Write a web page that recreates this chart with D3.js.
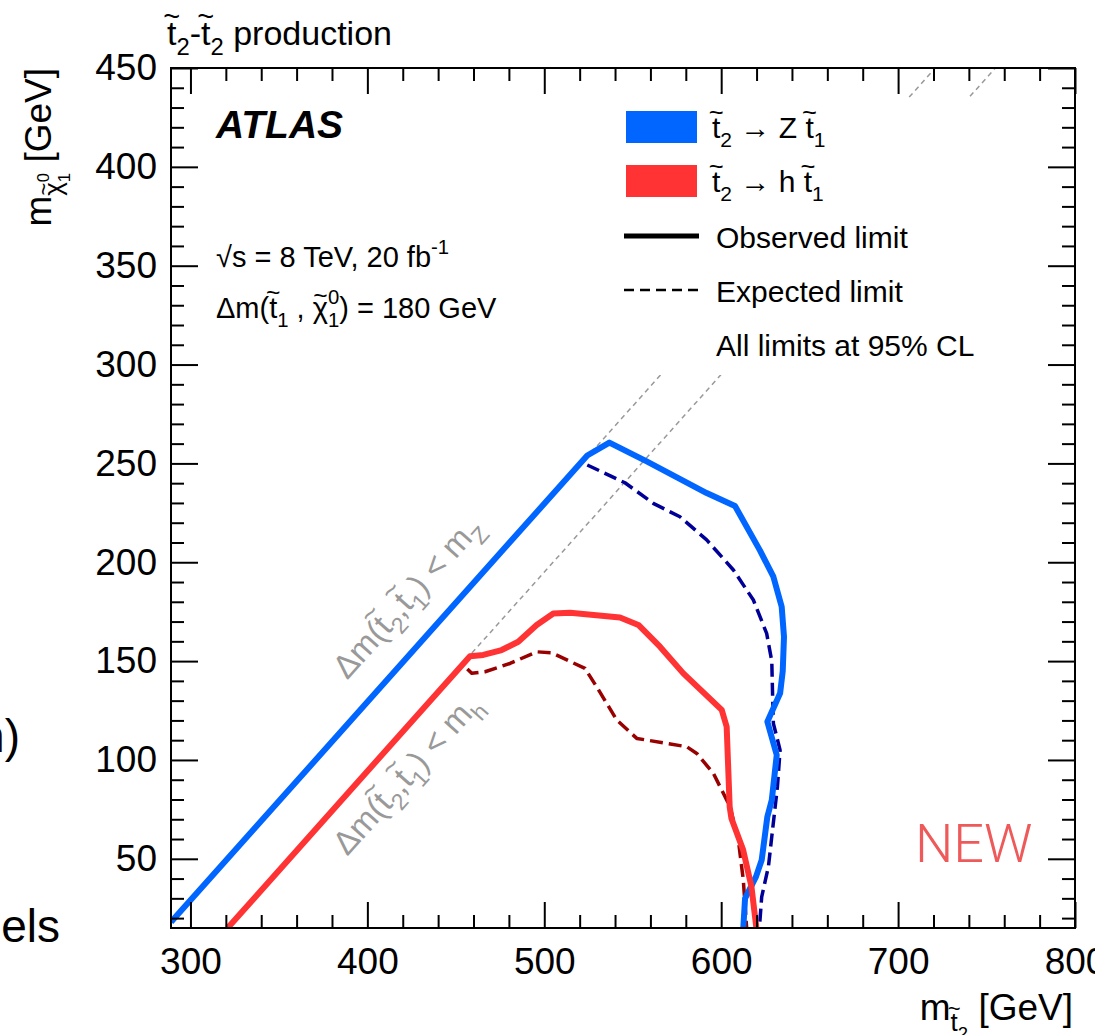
<!DOCTYPE html>
<html>
<head>
<meta charset="utf-8">
<script src="https://cdn.jsdelivr.net/npm/d3@7"></script>
<style>
body { margin: 0; background: #fff; }
svg { font-family: "Liberation Sans", Arial, Helvetica, sans-serif; }
svg text { white-space: pre; }
</style>
</head>
<body>
<svg width="1095" height="1035"></svg>
<script>
var svg = d3.select('svg');

// kinematic limits (m_stop2, m_chi)
var kinZ = [[289, 18], [721, 450]];
var kinH = [[320, 15], [755, 450]];

// stop2 -> Z stop1
var blueObs = [[289, 18], [524.3, 254], [536.8, 260.5], [557.9, 251], [591.8, 235], [607.8, 228.5],
    [621.9, 206], [629.5, 192.7], [634.2, 177.5], [635.5, 162.3], [634.8, 145], [633.3, 133.7],
    [626.1, 119.3], [631.4, 102.5], [628.6, 79.7], [626.1, 71.3], [622.9, 49.4], [619.7, 41],
    [613.5, 30], [612.5, 15]];
var blueExp = [[524.3, 249.2], [545.6, 240.2], [561.6, 229.8], [576.7, 223], [591.8, 211.3],
    [606.9, 196.1], [618.2, 180.9], [625.7, 164], [628.6, 150], [629, 135], [629.5, 118.5],
    [633.3, 105], [631.8, 86.5], [628.6, 61.2], [626.7, 46], [622.9, 30.8], [621.6, 15]];

// stop2 -> h stop1
var redObs = [[321, 15], [458, 152.5], [465.5, 153.1], [475.9, 155.6], [485.3, 159.8], [495.7, 168.3],
    [505.1, 174.1], [514.6, 174.5], [542.8, 172.1], [553.2, 168.3], [565.4, 157.3], [578.6, 143.8],
    [600.3, 125.3], [603.1, 116.8], [604.8, 76.3], [605.8, 70.4], [612.4, 54.5], [617.1, 35.9],
    [619.9, 15]];
var redExp = [[456.5, 146], [459, 143.8], [466.5, 144.6], [480.6, 148.8], [495.7, 154.7], [504.2, 154.2],
    [523, 146.3], [529.6, 137], [541, 120.2], [552.3, 110.9], [580.5, 106.7], [586.2, 103.3],
    [595.6, 93.2], [605, 76.4], [609.7, 59.5], [612.5, 39.3], [614.4, 15]];

var xTicks = [300, 400, 500, 600, 700, 800];
var yTicks = [50, 100, 150, 200, 250, 300, 350, 400, 450];

var blue = '#0066ff', red = '#ff3333', navy = '#000099', darkRed = '#990000', grey = '#999';

var plot = {l: 171, r: 1075, t: 68, b: 928};
var x = d3.scaleLinear().domain([289, 800]).range([plot.l, plot.r]);
var y = d3.scaleLinear().domain([15, 450]).range([plot.b, plot.t]);

var line = d3.line().x(function(d){ return x(d[0]); }).y(function(d){ return y(d[1]); });

// text with tilde / sub / superscripts, laid out by measuring
function richText(parent, parts, fs, fill){
    var g = parent.append('g').style('fill', fill || '#000');
    var cx = 0;
    parts.forEach(function(p){
        var s = fs * (p.sz || 1);
        var base = fs * (p.off || 0);
        var t = g.append('text')
            .attr('x', cx).attr('y', base)
            .style('font-size', s + 'px')
            .text(p.s);
        var w = t.node().getComputedTextLength();
        if(p.tilde){
            g.append('text')
                .attr('x', cx + w/2).attr('y', base - s*(p.tilde - 0.28))
                .attr('text-anchor', 'middle')
                .style('font-size', (s*0.85) + 'px')
                .text('~');
        }
        if(!p.keep) cx += w;
    });
    g.width = cx;
    return g;
}

svg.append('clipPath').attr('id', 'plotClip')
    .append('rect')
    .attr('x', plot.l).attr('y', plot.t)
    .attr('width', plot.r - plot.l).attr('height', plot.b - plot.t);

var area = svg.append('g').attr('clip-path', 'url(#plotClip)');

// kinematic lines
[kinZ, kinH].forEach(function(k){
    area.append('path')
        .attr('d', line(k))
        .style('fill', 'none')
        .style('stroke', grey)
        .style('stroke-width', 1.5)
        .style('stroke-dasharray', '5,4');
});

// legend background hides the diagonals
svg.append('rect')
    .attr('x', 612).attr('y', 98)
    .attr('width', 450).attr('height', 277)
    .style('fill', '#fff');

// limit curves
function curve(data, color, width, dash){
    area.append('path')
        .attr('d', line(data))
        .style('fill', 'none')
        .style('stroke', color)
        .style('stroke-width', width)
        .style('stroke-linejoin', 'round')
        .style('stroke-dasharray', dash || null);
}
curve(blueExp, navy, 3.5, '13,6');
curve(redExp, darkRed, 3.5, '13,6');
curve(blueObs, blue, 6);
curve(redObs, red, 6);

// axes, ticks inside on all four sides
var xMinor = d3.range(300, 801, 20).filter(function(v){ return xTicks.indexOf(v) < 0; });
var yMinor = d3.range(20, 450, 10).filter(function(v){ return yTicks.indexOf(v) < 0; });

function axis(a, pos){
    var g = svg.append('g').attr('transform', pos).call(a);
    g.select('.domain').remove();
    g.selectAll('line').style('stroke', '#000').style('stroke-width', 2);
    g.selectAll('text').style('font-size', '37px').style('fill', '#000');
    return g;
}
axis(d3.axisBottom(x).tickValues(xTicks).tickSize(-26).tickSizeOuter(0).tickPadding(20), 'translate(0,' + plot.b + ')');
axis(d3.axisBottom(x).tickValues(xMinor).tickSize(-13).tickSizeOuter(0).tickFormat(''), 'translate(0,' + plot.b + ')');
axis(d3.axisTop(x).tickValues(xTicks).tickSize(-26).tickSizeOuter(0).tickFormat(''), 'translate(0,' + plot.t + ')');
axis(d3.axisTop(x).tickValues(xMinor).tickSize(-13).tickSizeOuter(0).tickFormat(''), 'translate(0,' + plot.t + ')');
axis(d3.axisLeft(y).tickValues(yTicks).tickSize(-27).tickSizeOuter(0).tickPadding(14), 'translate(' + plot.l + ',0)');
axis(d3.axisLeft(y).tickValues(yMinor).tickSize(-13).tickSizeOuter(0).tickFormat(''), 'translate(' + plot.l + ',0)');
axis(d3.axisRight(y).tickValues(yTicks).tickSize(-27).tickSizeOuter(0).tickFormat(''), 'translate(' + plot.r + ',0)');
axis(d3.axisRight(y).tickValues(yMinor).tickSize(-13).tickSizeOuter(0).tickFormat(''), 'translate(' + plot.r + ',0)');

svg.append('rect')
    .attr('x', plot.l).attr('y', plot.t)
    .attr('width', plot.r - plot.l).attr('height', plot.b - plot.t)
    .style('fill', 'none').style('stroke', '#000').style('stroke-width', 2);

// axis titles
var xt = richText(svg, [{s: 'm'}, {s: 't', sz: 0.7, off: 0.3, tilde: 0.85}, {s: '2', sz: 0.5, off: 0.55},
    {s: ' [GeV]'}], 37);
xt.attr('transform', 'translate(' + (1073 - xt.width) + ',1020)');

var yt = richText(svg, [{s: 'm'}, {s: 'χ', sz: 0.7, off: 0.3, tilde: 0.7}, {s: '1', sz: 0.45, off: 0.5, keep: true},
    {s: '0', sz: 0.45, off: -0.05}, {s: ' [GeV]'}], 37);
yt.attr('transform', 'translate(51,' + (plot.t + yt.width) + ') rotate(-90)');

// title
richText(svg, [{s: 't', tilde: 0.85}, {s: '2', sz: 0.7, off: 0.3}, {s: '-'}, {s: 't', tilde: 0.85},
    {s: '2', sz: 0.7, off: 0.3}, {s: ' production'}], 34)
    .attr('transform', 'translate(167,45)');

svg.append('text')
    .attr('x', 216).attr('y', 138)
    .style('font-size', '39px').style('font-weight', 'bold').style('font-style', 'italic')
    .text('ATLAS');

richText(svg, [{s: '√s = 8 TeV, 20 fb'}, {s: '-1', sz: 0.7, off: -0.45}], 29)
    .attr('transform', 'translate(216,267)');
richText(svg, [{s: 'Δm('}, {s: 't', tilde: 0.85}, {s: '1', sz: 0.7, off: 0.3}, {s: ' , '},
    {s: 'χ', tilde: 0.75}, {s: '1', sz: 0.7, off: 0.3, keep: true}, {s: '0', sz: 0.7, off: -0.5},
    {s: ') = 180 GeV'}], 29)
    .attr('transform', 'translate(216,318)');

// legend
var legend = svg.append('g');
legend.append('rect').attr('x', 626).attr('y', 111).attr('width', 71).attr('height', 32).style('fill', blue);
legend.append('rect').attr('x', 626).attr('y', 165).attr('width', 71).attr('height', 32).style('fill', red);
legend.append('line').attr('x1', 624).attr('x2', 699).attr('y1', 236).attr('y2', 236)
    .style('stroke', '#000').style('stroke-width', 5);
legend.append('line').attr('x1', 624).attr('x2', 699).attr('y1', 290).attr('y2', 290)
    .style('stroke', '#000').style('stroke-width', 2.5).style('stroke-dasharray', '10,6');
richText(legend, [{s: 't', tilde: 0.85}, {s: '2', sz: 0.7, off: 0.3}, {s: ' → Z '}, {s: 't', tilde: 0.85},
    {s: '1', sz: 0.7, off: 0.3}], 30).attr('transform', 'translate(712,138)');
richText(legend, [{s: 't', tilde: 0.85}, {s: '2', sz: 0.7, off: 0.3}, {s: ' → h '}, {s: 't', tilde: 0.85},
    {s: '1', sz: 0.7, off: 0.3}], 30).attr('transform', 'translate(712,192)');
var legendText = ['Observed limit', 'Expected limit', 'All limits at 95% CL'];
legend.selectAll('text.item')
    .data(legendText).enter()
    .append('text')
    .attr('class', 'item')
    .attr('x', 716)
    .attr('y', function(d, i){ return 248 + i*54; })
    .style('font-size', '30px')
    .text(function(d){ return d; });

// labels along the kinematic limits
var ang = Math.atan2(y(kinZ[1][1]) - y(kinZ[0][1]), x(kinZ[1][0]) - x(kinZ[0][0])) * 180 / Math.PI;
richText(svg, [{s: 'Δm('}, {s: 't', tilde: 0.85}, {s: '2', sz: 0.7, off: 0.3}, {s: ','}, {s: 't', tilde: 0.85},
    {s: '1', sz: 0.7, off: 0.3}, {s: ') < m'}, {s: 'Z', sz: 0.7, off: 0.3}], 33, grey)
    .attr('transform', 'translate(' + (x(400) - 20) + ',' + (y(129) - 22) + ') rotate(' + ang + ')');
richText(svg, [{s: 'Δm('}, {s: 't', tilde: 0.85}, {s: '2', sz: 0.7, off: 0.3}, {s: ','}, {s: 't', tilde: 0.85},
    {s: '1', sz: 0.7, off: 0.3}, {s: ') < m'}, {s: 'h', sz: 0.7, off: 0.3}], 33, grey)
    .attr('transform', 'translate(' + (x(400) - 20) + ',' + (y(95) + 87) + ') rotate(' + ang + ')');

svg.append('text')
    .attr('x', 915).attr('y', 862)
    .style('font-size', '54px').style('font-weight', 300)
    .style('font-family', 'Roboto, "Open Sans", sans-serif')
    .style('fill', '#ee5a5a')
    .text('NEW');

// slide text cut at the left edge
svg.append('text').attr('x', 20).attr('y', 752).attr('text-anchor', 'end')
    .style('font-size', '46px').text('h)');
svg.append('text').attr('x', 60).attr('y', 942).attr('text-anchor', 'end')
    .style('font-size', '46px').text('models');
</script>
</body>
</html>
